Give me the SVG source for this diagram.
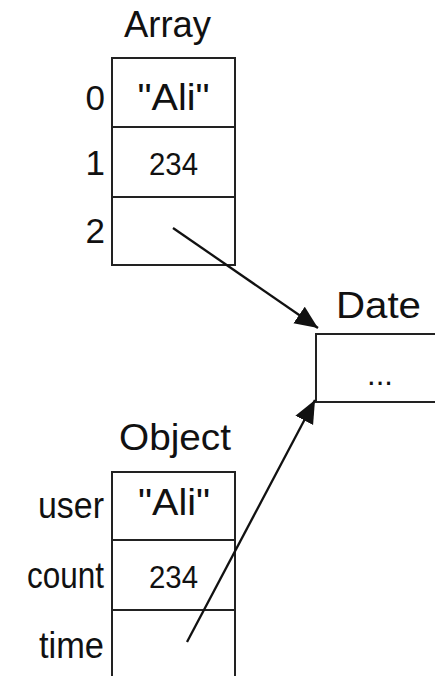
<svg xmlns="http://www.w3.org/2000/svg" width="435" height="676" viewBox="0 0 435 676">
<style>
text{font-family:"Liberation Sans",Arial,sans-serif;fill:#111}
.t{font-size:36px;text-anchor:middle}
.k{font-size:36px;text-anchor:end}
.d{font-size:35px;text-anchor:end}
.v{font-size:37px;text-anchor:middle}
.n{font-size:31px;text-anchor:middle}
.box{fill:#fff;stroke:#222;stroke-width:2}
.row{stroke:#222;stroke-width:2}
.conn{stroke:#111;stroke-width:2.3;fill:none}
</style>
<defs>
<marker id="ah" markerUnits="userSpaceOnUse" markerWidth="26" markerHeight="22" refX="23" refY="10" orient="auto">
<path d="M0,0 L23,10 L0,20 Z" fill="#111"/>
</marker>
</defs>
<rect width="435" height="676" fill="#fff"/>
<g id="array">
<text class="t" x="167.5" y="37" textLength="87" lengthAdjust="spacingAndGlyphs">Array</text>
<rect class="box" x="112" y="58" width="123" height="207"/>
<line class="row" x1="112" y1="127" x2="235" y2="127"/>
<line class="row" x1="112" y1="197" x2="235" y2="197"/>
<text class="d" x="105" y="110">0</text>
<text class="d" x="105" y="175">1</text>
<text class="d" x="105" y="243">2</text>
<text class="v" x="173.5" y="110" textLength="72" lengthAdjust="spacingAndGlyphs">"Ali"</text>
<text class="n" x="173.5" y="175" textLength="49" lengthAdjust="spacingAndGlyphs">234</text>
</g>
<g id="date">
<text class="t" x="378.5" y="318" textLength="85" lengthAdjust="spacingAndGlyphs">Date</text>
<rect class="box" x="316" y="334" width="130" height="68"/>
<text class="n" x="380" y="385">...</text>
</g>
<g id="object">
<text class="t" x="175" y="450" textLength="112" lengthAdjust="spacingAndGlyphs">Object</text>
<rect class="box" x="112" y="472" width="123" height="220"/>
<line class="row" x1="112" y1="540" x2="235" y2="540"/>
<line class="row" x1="112" y1="610" x2="235" y2="610"/>
<text class="k" x="104" y="518" textLength="66" lengthAdjust="spacingAndGlyphs">user</text>
<text class="k" x="104" y="588" textLength="77" lengthAdjust="spacingAndGlyphs">count</text>
<text class="k" x="104" y="658" textLength="65" lengthAdjust="spacingAndGlyphs">time</text>
<text class="v" x="174" y="515" textLength="72" lengthAdjust="spacingAndGlyphs">"Ali"</text>
<text class="n" x="173.5" y="588" textLength="49" lengthAdjust="spacingAndGlyphs">234</text>
</g>
<g id="connectors">
<line class="conn" x1="173" y1="228" x2="318" y2="328" marker-end="url(#ah)"/>
<line class="conn" x1="187" y1="642" x2="315" y2="400" marker-end="url(#ah)"/>
</g>
</svg>
